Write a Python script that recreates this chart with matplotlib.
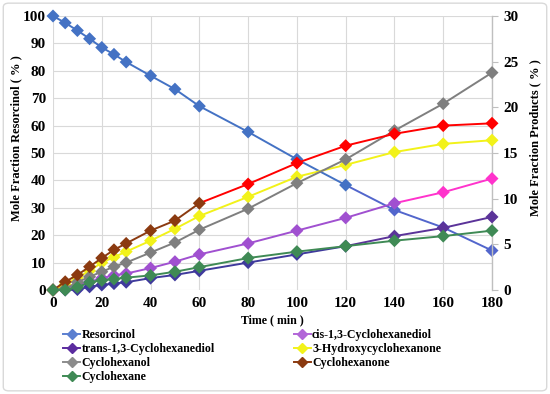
import numpy as np
import matplotlib
matplotlib.use('Agg')
import matplotlib.pyplot as plt
from matplotlib.lines import Line2D
from matplotlib.patches import FancyBboxPatch

plt.rcParams['font.family'] = ['Liberation Serif', 'DejaVu Serif']
plt.rcParams['font.weight'] = 'bold'

# time points (min)
time = [0, 5, 10, 15, 20, 25, 30, 40, 50, 60, 80, 100, 120, 140, 160, 180]

# left axis
resorcinol = [100, 97.5, 94.7, 91.7, 88.5, 86.0, 83.2, 78.2, 73.3, 67.1, 57.7, 47.7, 38.3, 29.2, 22.8, 14.4]

# right axis (products)
cis_diol = [0, 0.2, 0.5, 0.9, 1.3, 1.6, 1.8, 2.4, 3.1, 3.9, 5.1, 6.5, 7.9, 9.5, 10.7, 12.2]
trans_diol = [0, 0, 0.05, 0.35, 0.55, 0.7, 0.85, 1.3, 1.65, 2.1, 3.0, 3.9, 4.8, 5.9, 6.8, 8.0]
hydroxy = [0, 0.6, 1.35, 2.1, 3.0, 3.6, 4.2, 5.4, 6.7, 8.1, 10.2, 12.4, 13.7, 15.1, 16.0, 16.4]
cyclohexanol = [0, 0.15, 0.85, 1.45, 2.0, 2.55, 3.0, 4.1, 5.2, 6.6, 8.9, 11.7, 14.3, 17.45, 20.4, 23.8]
cyclohexanone = [0, 0.9, 1.65, 2.55, 3.5, 4.4, 5.1, 6.5, 7.6, 9.5, 11.6, 13.9, 15.8, 17.1, 18.0, 18.25]
cyclohexane = [0, 0, 0.3, 0.85, 1.05, 1.2, 1.35, 1.6, 2.0, 2.5, 3.5, 4.2, 4.8, 5.4, 5.9, 6.5]

# (label, values, early colour, late colour, switch time)
products = [
    ('cis-1,3-Cyclohexanediol', cis_diol, '#A050D0', '#FF33CC', 140),
    ('trans-1,3-Cyclohexanediol', trans_diol, '#3F3A9C', '#5B3399', 120),
    ('3-Hydroxycyclohexanone', hydroxy, '#F2F21A', '#F2F21A', 180),
    ('Cyclohexanol', cyclohexanol, '#7F7F7F', '#7F7F7F', 180),
    ('Cyclohexanone', cyclohexanone, '#8B3A10', '#FF0000', 60),
    ('Cyclohexane', cyclohexane, '#3F8A55', '#3F8A55', 180),
]

fig = plt.figure(figsize=(5.5, 3.94), dpi=100)
fig.patches.append(FancyBboxPatch((0.006, 0.008), 0.988, 0.984, boxstyle='round,pad=0,rounding_size=0.01',
                                  transform=fig.transFigure, fill=False, edgecolor='#D9D9D9', lw=1.0))
ax = fig.add_axes([53/550, 1 - 290/394, 439/550, 274/394])
ax2 = ax.twinx()


def draw_series(a, x, y, c1, c2, switch, z):
    cols = [c1 if t <= switch else c2 for t in x]
    for i in range(len(x) - 1):
        a.plot(x[i:i+2], y[i:i+2], color=cols[i+1], lw=1.4, zorder=z, solid_capstyle='round', clip_on=False)
    a.scatter(x, y, marker='D', s=44, c=cols, zorder=z + 0.5, linewidths=0, clip_on=False)


draw_series(ax, time, resorcinol, '#4472C4', '#5266CC', 120, 3)
for i, (lab, vals, c1, c2, sw) in enumerate(products):
    draw_series(ax2, time, vals, c1, c2, sw, 3 + i)

ax.set_xlim(0, 180)
ax.set_ylim(0, 100)
ax2.set_ylim(0, 30)
ax.set_xticks(range(0, 181, 20))
ax.set_yticks(range(0, 101, 10))
ax2.set_yticks(range(0, 31, 5))
ax.grid(True, color='#D9D9D9', lw=0.8)
ax.set_axisbelow(True)
for sp in ['top', 'left', 'bottom']:
    ax.spines[sp].set_visible(False)
    ax2.spines[sp].set_visible(False)
ax.spines['right'].set_visible(False)
ax2.spines['right'].set_color('#BFBFBF')
ax2.spines['right'].set_linewidth(1.0)
ax.tick_params(axis='both', length=0, labelsize=11, pad=5)
ax2.tick_params(axis='y', length=4, color='#BFBFBF', labelsize=11, pad=4)

ax.set_xlabel('Time ( min )', fontsize=8.6, fontweight='bold', labelpad=3)
ax.set_ylabel('Mole Fraction Resorcinol ( % )', fontsize=9, fontweight='bold')
ax2.set_ylabel('Mole Fraction Products ( % )', fontsize=9, fontweight='bold')
ax.yaxis.set_label_coords(-0.071, 0.555)
ax2.yaxis.set_label_coords(1.084, 0.555)

# legend (row-wise order in two columns)
leg_colors = {
    'Resorcinol': '#5B7FD0',
    'cis-1,3-Cyclohexanediol': '#B266D8',
    'trans-1,3-Cyclohexanediol': '#5B2C9F',
    '3-Hydroxycyclohexanone': '#F2F21A',
    'Cyclohexanol': '#8C8C8C',
    'Cyclohexanone': '#8B3A10',
    'Cyclohexane': '#3F8A55',
}
order = ['Resorcinol', 'trans-1,3-Cyclohexanediol', 'Cyclohexanol', 'Cyclohexane',
         'cis-1,3-Cyclohexanediol', '3-Hydroxycyclohexanone', 'Cyclohexanone']
handles = [Line2D([], [], color=leg_colors[k], marker='D', markersize=5, lw=1.4) for k in order]
fig.legend(handles, order, ncol=2, loc='upper left',
           bbox_to_anchor=(57/550, 1 - 323/394), frameon=False, fontsize=8.6,
           handlelength=1.45, handletextpad=0.1, columnspacing=6.6, labelspacing=0.18,
           borderpad=0)

fig.savefig('out.png', dpi=100)
